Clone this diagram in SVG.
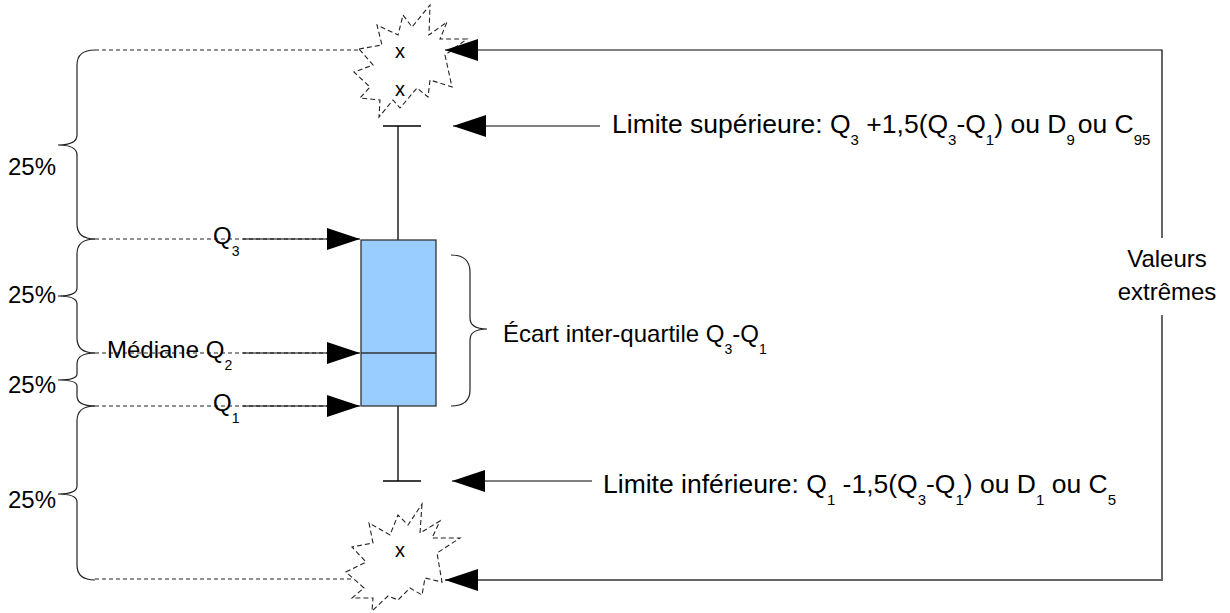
<svg xmlns="http://www.w3.org/2000/svg" width="1230" height="613" viewBox="0 0 1230 613">
<style>
text{font-family:"Liberation Sans",Arial,sans-serif;fill:#000}
.t{font-size:24px}
.lim{font-size:26.5px}
.sub{font-size:14px}
.subl{font-size:15px}
.xx{font-size:20px;text-anchor:middle}
.dash{stroke:#222;stroke-width:1.2;stroke-dasharray:4 3;fill:none}
.star{fill:#fff;stroke:#222;stroke-width:1.1;stroke-dasharray:5 3}
.brace{fill:none;stroke:#222;stroke-width:1.2}
.arr{stroke:#000;stroke-width:1.2;fill:none;marker-end:url(#ah)}
.ln{stroke:#000;stroke-width:1.3;fill:none}
</style>
<defs>
<marker id="ah" markerUnits="userSpaceOnUse" markerWidth="34" markerHeight="24" refX="33" refY="11" orient="auto">
<path d="M0,0 L33,11 L0,22 z" fill="#000"/>
</marker>
</defs>
<rect width="1230" height="613" fill="#fff"/>

<g id="guides">
<path class="dash" d="M95,50 H360 M95,239 H361 M95,353 H361 M95,406 H361 M95,579 H368"/>
</g>

<g id="star-top">
<polygon class="star" points="359,49 382,45 377,25 398,35 403,15 412,27 430,5 429,35 447,22 440,39 467,39 445,55 452,87 430,80 428,97 417,88 400,108 393,100 379,117 380,100 360,98 370,87 354,72 373,65"/>
<text class="xx" x="400" y="58">x</text>
<text class="xx" x="400" y="96">x</text>
</g>

<g id="star-bottom">
<polygon class="star" points="422,504 420,533 440,521 432,538 460,538 437,553 442,582 425,578 422,595 410,588 398,600 388,596 372,611 373,598 352,598 364,588 346,572 366,562 352,547 373,543 369,523 390,535 398,515 408,525"/>
<text class="xx" x="400" y="557">x</text>
</g>

<g id="boxplot">
<path class="ln" d="M398,126 V240 M398,406 V481 M383,126 H421 M383,481 H421"/>
<rect x="361" y="240" width="75" height="166" fill="#99ccff" stroke="#333" stroke-width="1.3"/>
<path d="M361,353 H436" stroke="#333" stroke-width="1.3"/>
</g>

<g id="braces">
<path class="brace" d="M95,50 C83,50 77,55 77,65 L77,135 C77,141 71,145 58,145 C71,145 77,149 77,155 L77,224 C77,234 83,239 95,239"/>
<path class="brace" d="M95,239 C83,239 77,244 77,254 L77,288 C77,293 71,296 58,296 C71,296 77,299 77,304 L77,338 C77,348 83,353 95,353"/>
<path class="brace" d="M95,353 C83,353 77,357 77,364 L77,374 C77,378 71,380 58,380 C71,380 77,382 77,386 L77,396 C77,402 83,406 95,406"/>
<path class="brace" d="M95,406 C83,406 77,411 77,421 L77,486 C77,491 71,494 58,494 C71,494 77,497 77,502 L77,565 C77,575 83,580 95,580"/>
<path class="brace" d="M451,255 C463,255 470,260 470,272 L470,318 C470,325 476,329 487,329 C476,329 470,333 470,340 L470,390 C470,401 463,406 451,406"/>
</g>

<g id="labels">
<text class="t" x="8" y="175">25%</text>
<text class="t" x="8" y="303">25%</text>
<text class="t" x="8" y="393">25%</text>
<text class="t" x="8" y="508">25%</text>
<text class="t" x="213" y="244">Q<tspan class="sub" dy="12">3</tspan></text>
<text class="t" x="107" y="358">Médiane Q<tspan class="sub" dy="12">2</tspan></text>
<text class="t" x="213" y="411">Q<tspan class="sub" dy="12">1</tspan></text>
<text class="t" x="503" y="342">Écart inter-quartile Q<tspan class="sub" dy="12">3</tspan><tspan dy="-12">-Q</tspan><tspan class="sub" dy="12">1</tspan></text>
<text class="t" x="1167" y="267" text-anchor="middle">Valeurs</text>
<text class="t" x="1167" y="300" text-anchor="middle">extrêmes</text>
<text class="lim" x="612" y="133">Limite supérieure: Q<tspan class="subl" dy="12">3</tspan><tspan dy="-12"> +1,5(Q</tspan><tspan class="subl" dy="12">3</tspan><tspan dy="-12">-Q</tspan><tspan class="subl" dy="12">1</tspan><tspan dy="-12">) ou D</tspan><tspan class="subl" dy="12">9</tspan><tspan dx="3" dy="-12">ou C</tspan><tspan class="subl" dy="12">95</tspan></text>
<text class="lim" x="603" y="493">Limite inférieure: Q<tspan class="subl" dy="12">1</tspan><tspan dy="-12"> -1,5(Q</tspan><tspan class="subl" dy="12">3</tspan><tspan dy="-12">-Q</tspan><tspan class="subl" dy="12">1</tspan><tspan dy="-12">) ou D</tspan><tspan class="subl" dy="12">1</tspan><tspan dy="-12"> ou C</tspan><tspan class="subl" dy="12">5</tspan></text>
</g>

<g id="connectors">
<path class="arr" d="M243,239 H360"/>
<path class="arr" d="M243,353 H360"/>
<path class="arr" d="M243,406 H360"/>
<path class="arr" d="M600,126 H453"/>
<path class="arr" d="M592,481 H452"/>
<path class="arr" d="M1162,238 V50 H445"/>
<path class="arr" d="M1162,315 V580 H445" style="stroke:#666;stroke-width:2"/>
</g>
</svg>
